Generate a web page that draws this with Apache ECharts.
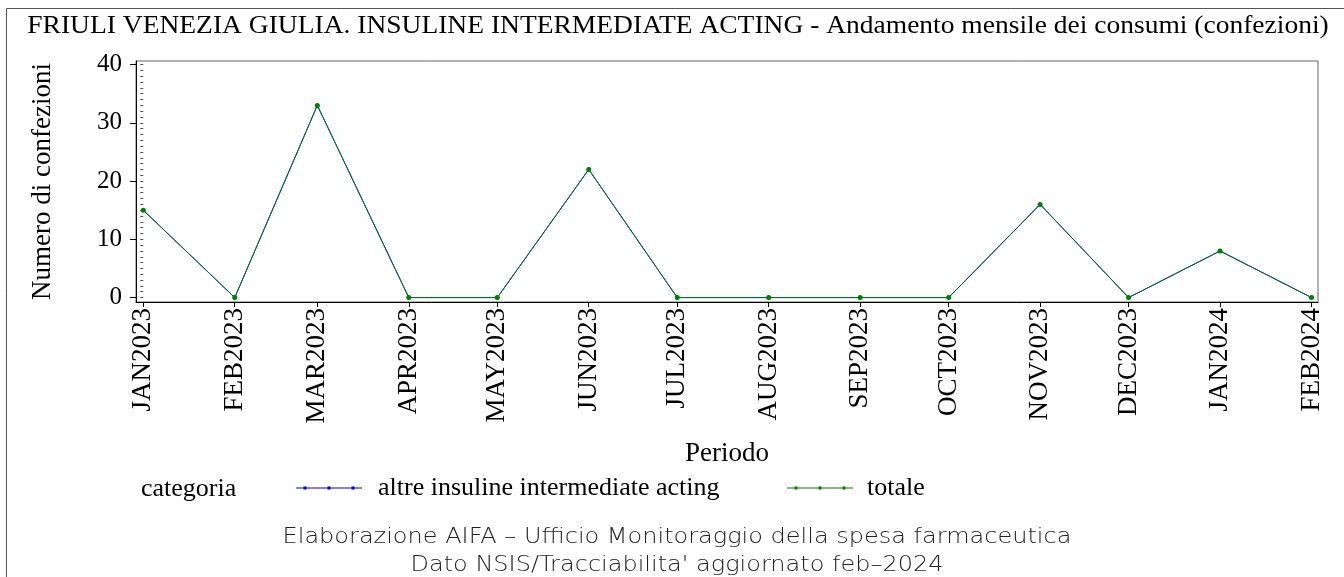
<!DOCTYPE html>
<html>
<head>
<meta charset="utf-8">
<script src="https://cdn.jsdelivr.net/npm/echarts@6/dist/echarts.min.js"></script>
<style>
html,body{margin:0;padding:0;background:#fff;}
#chart{width:1344px;height:577px;}
</style>
</head>
<body>
<div id="chart"></div>
<script>
// ---- data ----
const periods = ['2023-01','2023-02','2023-03','2023-04','2023-05','2023-06','2023-07','2023-08','2023-09','2023-10','2023-11','2023-12','2024-01','2024-02'];
const tickLabels = ['JAN2023','FEB2023','MAR2023','APR2023','MAY2023','JUN2023','JUL2023','AUG2023','SEP2023','OCT2023','NOV2023','DEC2023','JAN2024','FEB2024'];
const altreValues = [15, 0, 33, 0, 0, 22, 0, 0, 0, 0, 16, 0, 8, 0];
const totaleValues = [15, 0, 33, 0, 0, 22, 0, 0, 0, 0, 16, 0, 8, 0];
const yMajorTicks = [0, 10, 20, 30, 40];
const seriesNames = ['altre insuline intermediate acting', 'totale'];
const titleText = 'FRIULI VENEZIA GIULIA. INSULINE INTERMEDIATE ACTING - Andamento mensile dei consumi (confezioni)';
const footer1 = 'Elaborazione AIFA \u2013 Ufficio Monitoraggio della spesa farmaceutica';
const footer2 = "Dato NSIS/Tracciabilita' aggiornato feb\u20132024";

// day offsets from 1 Jan 2023 (time scale)
const base = Date.UTC(2023, 0, 1);
const dayOf = p => { const [y, m] = p.split('-').map(Number); return (Date.UTC(y, m - 1, 1) - base) / 864e5; };
const xDays = periods.map(dayOf);
const labelByDay = {};
xDays.forEach((d, i) => labelByDay[d] = tickLabels[i]);
const yMinorTicks = [];
for (let v = 0; v <= 40; v++) yMinorTicks.push(v);

const serif = '"Liberation Serif", "Times New Roman", serif';
const sans = '"DejaVu Sans", sans-serif';
const chart = echarts.init(document.getElementById('chart'), null, {renderer: 'canvas'});

const dotLine = 'path://M0,2.6 L66,2.6 L66,3.4 L0,3.4 Z M7.5,1.5 L10.5,1.5 L10.5,4.5 L7.5,4.5 Z M31.5,1.5 L34.5,1.5 L34.5,4.5 L31.5,4.5 Z M55.5,1.5 L58.5,1.5 L58.5,4.5 L55.5,4.5 Z';

chart.setOption({
  animation: false,
  backgroundColor: '#fff',
  legend: [
    {data: [seriesNames[0]], left: 291, top: 470, itemWidth: 66, itemHeight: 6, icon: dotLine,
     textStyle: {fontFamily: serif, fontSize: 26, color: '#000', padding: [0, 0, 0, 11]}},
    {data: [seriesNames[1]], left: 782, top: 470, itemWidth: 66, itemHeight: 6, icon: dotLine,
     textStyle: {fontFamily: serif, fontSize: 26, color: '#000', padding: [0, 0, 0, 9]}}
  ],
  graphic: [
    {type: 'rect', shape: {x: 6.5, y: 8.5, width: 1400, height: 700}, style: {fill: 'none', stroke: '#555', lineWidth: 1}, silent: true},
    {type: 'text', x: 678, y: 26, scaleX: 1.1, style: {text: titleText, font: '25px ' + serif, fill: '#000', align: 'center', verticalAlign: 'middle'}},
    {type: 'text', x: 141, y: 489, style: {text: 'categoria', font: '26px ' + serif, fill: '#000', align: 'left', verticalAlign: 'middle'}},
    {type: 'text', x: 677, y: 537, scaleX: 1.5, scaleY: 1.35, style: {text: footer1, font: '200 16px ' + sans, fill: '#222', align: 'center', verticalAlign: 'middle'}},
    {type: 'text', x: 677, y: 565, scaleX: 1.5, scaleY: 1.35, style: {text: footer2, font: '200 16px ' + sans, fill: '#222', align: 'center', verticalAlign: 'middle'}}
  ],
  grid: {left: 136, right: 26, top: 61, bottom: 275, show: true, borderColor: '#666', borderWidth: 1, backgroundColor: 'transparent'},
  xAxis: {
    type: 'value', min: -2.47, max: 398.2,
    name: 'Periodo', nameLocation: 'middle', nameGap: 138,
    nameTextStyle: {fontFamily: serif, fontSize: 27, color: '#000'},
    axisLine: {show: true, onZero: false, lineStyle: {color: '#000', width: 1}},
    axisTick: {show: true, length: 5, customValues: xDays, lineStyle: {color: '#000'}},
    axisLabel: {customValues: xDays, rotate: 90, margin: 6, fontFamily: serif, fontSize: 27, color: '#000',
      formatter: v => labelByDay[v] || ''},
    splitLine: {show: false}
  },
  yAxis: [
    {
      type: 'value', min: -0.76, max: 40.62,
      name: 'Numero di confezioni', nameLocation: 'middle', nameGap: 80, nameRotate: 90,
      nameTextStyle: {fontFamily: serif, fontSize: 27, color: '#000'},
      axisLine: {show: true, onZero: false, lineStyle: {color: '#000', width: 1}},
      axisTick: {show: true, length: 6, customValues: yMajorTicks, lineStyle: {color: '#000'}},
      axisLabel: {customValues: yMajorTicks, margin: 14, fontFamily: serif, fontSize: 25, color: '#000'},
      splitLine: {show: false}
    },
    {
      type: 'value', min: -0.76, max: 40.62, position: 'left',
      axisLine: {show: false},
      axisTick: {show: true, length: 3, customValues: yMinorTicks, lineStyle: {color: '#555'}},
      axisLabel: {show: false},
      splitLine: {show: false}
    }
  ],
  series: [
    {name: seriesNames[0], type: 'line', data: xDays.map((d, i) => [d, altreValues[i]]),
     color: '#0000ff', lineStyle: {width: 1, color: '#0000ff'}, symbol: 'circle', symbolSize: 4,
     itemStyle: {color: '#0000ff'}},
    {name: seriesNames[1], type: 'line', data: xDays.map((d, i) => [d, totaleValues[i]]),
     color: '#008000', lineStyle: {width: 1, color: '#008000', opacity: 0.92}, symbol: 'circle', symbolSize: 5,
     itemStyle: {color: '#008000'}}
  ]
});
</script>
</body>
</html>
